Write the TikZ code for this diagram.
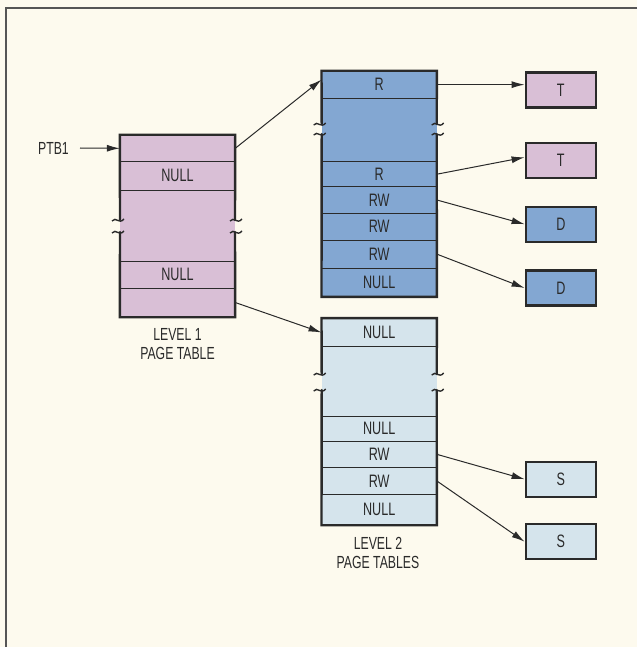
\documentclass[tikz,border=0pt]{standalone}
\usepackage{fontspec}
\setmainfont[FakeStretch=0.7]{Liberation Sans}
\usetikzlibrary{arrows.meta}
\definecolor{bgc}{HTML}{FDFAEE}
\definecolor{pinkc}{HTML}{D9BFD6}
\definecolor{bluec}{HTML}{83A7D2}
\definecolor{lightc}{HTML}{D5E4EC}
\definecolor{inkc}{HTML}{2A2A2A}
\tikzset{
  row/.style={inner sep=0pt, minimum width=115pt, text=inkc, font=\fontsize{18}{20}\selectfont},
  border/.style={draw=inkc, line width=2.4pt, line cap=round},
  sep/.style={draw=inkc, line width=1pt},
  smallbox/.style={draw=inkc, line width=2.4pt, minimum width=70pt, minimum height=35pt, inner sep=0pt, text=inkc, font=\fontsize{18}{20}\selectfont},
  conn/.style={draw=inkc, line width=1pt, -{Latex[length=13pt,width=7pt]}},
  lbl/.style={text=inkc, font=\fontsize{17.5}{19}\selectfont, align=center, inner sep=0pt},
  curlmark/.pic={\draw[draw=inkc, line width=1.4pt] (-6,1) .. controls (-2,-4) and (1,5) .. (6,-1);}
}
\begin{document}
\begin{tikzpicture}[x=1pt,y=-1pt]
\fill[bgc] (0,0) rectangle (637,647);
\useasboundingbox (0,0) rectangle (637,647);
\draw[draw=inkc!80, line width=2pt] (637,8) -- (6,8) -- (6,647);

% ---------- Level 1 page table ----------
\node[row, fill=pinkc, minimum height=26.7pt] (l1a) at (177.5,148.35) {};
\node[row, fill=pinkc, minimum height=28.3pt] (l1b) at (177.5,175.85) {NULL};
\node[row, fill=pinkc, minimum height=71pt] (l1c) at (177.5,225.5) {};
\node[row, fill=pinkc, minimum height=27pt] (l1d) at (177.5,274.5) {NULL};
\node[row, fill=pinkc, minimum height=29pt] (l1e) at (177.5,302.5) {};
\draw[sep] (l1a.south west) -- (l1a.south east);
\draw[sep] (l1b.south west) -- (l1b.south east);
\draw[sep] (l1c.south west) -- (l1c.south east);
\draw[sep] (l1d.south west) -- (l1d.south east);
\draw[border] (120,220) -- (l1a.north west) -- (l1a.north east) -- (235,220);
\draw[border] (120,232) -- (l1e.south west) -- (l1e.south east) -- (235,232);
\pic at (118,220) {curlmark};
\pic at (118,232) {curlmark};
\pic at (236,220) {curlmark};
\pic at (236,232) {curlmark};
\node[lbl] (l1lbl) at (177.5,344) {LEVEL 1\\PAGE TABLE};

\node[lbl, anchor=east] (ptb) at (69,148) {PTB1};
\draw[conn] (ptb.east) ++(11,0) coordinate (ptbs) -- (l1a.west);

% ---------- Level 2 (blue) page table ----------
\node[row, fill=bluec, minimum height=27.3pt] (b1) at (379.2,84.65) {R};
\node[row, fill=bluec, minimum height=63.4pt] (b2) at (379.2,130) {};
\node[row, fill=bluec, minimum height=25pt] (b3) at (379.2,174.2) {R};
\node[row, fill=bluec, minimum height=26.6pt] (b4) at (379.2,200) {RW};
\node[row, fill=bluec, minimum height=26.7pt] (b5) at (379.2,226.65) {RW};
\node[row, fill=bluec, minimum height=28.3pt] (b6) at (379.2,254.15) {RW};
\node[row, fill=bluec, minimum height=28.4pt] (b7) at (379.2,282.5) {NULL};
\foreach \r in {b1,b2,b3,b4,b5,b6} \draw[sep] (\r.south west) -- (\r.south east);
\draw[border] (321.7,124) -- (b1.north west) -- (b1.north east) -- (436.7,124);
\draw[border] (321.7,134) -- (b7.south west) -- (b7.south east) -- (436.7,134);
\pic at (319.7,124) {curlmark};
\pic at (319.7,134) {curlmark};
\pic at (437.7,124) {curlmark};
\pic at (437.7,134) {curlmark};

% ---------- Level 2 (light) page table ----------
\node[row, fill=lightc, minimum height=28.4pt] (c1) at (379.2,332.5) {NULL};
\node[row, fill=lightc, minimum height=69.3pt] (c2) at (379.2,381.35) {};
\node[row, fill=lightc, minimum height=25pt] (c3) at (379.2,428.5) {NULL};
\node[row, fill=lightc, minimum height=26.7pt] (c4) at (379.2,454.35) {RW};
\node[row, fill=lightc, minimum height=26.6pt] (c5) at (379.2,481) {RW};
\node[row, fill=lightc, minimum height=30.7pt] (c6) at (379.2,509.65) {NULL};
\foreach \r in {c1,c2,c3,c4,c5} \draw[sep] (\r.south west) -- (\r.south east);
\draw[border] (321.7,374) -- (c1.north west) -- (c1.north east) -- (436.7,374);
\draw[border] (321.7,390) -- (c6.south west) -- (c6.south east) -- (436.7,390);
\pic at (319.7,374) {curlmark};
\pic at (319.7,390) {curlmark};
\pic at (437.7,374) {curlmark};
\pic at (437.7,390) {curlmark};
\node[lbl] (l2lbl) at (378,553) {LEVEL 2\\PAGE TABLES};

% ---------- target pages ----------
\node[smallbox, fill=pinkc] (t1) at (560.8,90) {T};
\node[smallbox, fill=pinkc] (t2) at (560.8,160.3) {T};
\node[smallbox, fill=bluec] (d1) at (560.8,224.2) {D};
\node[smallbox, fill=bluec] (d2) at (560.8,288) {D};
\node[smallbox, fill=lightc] (s1) at (560.8,479.2) {S};
\node[smallbox, fill=lightc] (s2) at (560.8,541.7) {S};

% ---------- connectors ----------
\draw[conn] (l1a.east) -- ([yshift=5pt]b1.west);
\draw[conn] (l1e.east) -- (c1.west);
\draw[conn] (b1.east) -- (b1.east -| t1.west);
\draw[conn] (b3.east) -- ([yshift=3pt]t2.west);
\draw[conn] (b4.east) -- (d1.west);
\draw[conn] (b6.east) -- (d2.west);
\draw[conn] (c4.east) -- (s1.west);
\draw[conn] (c5.east) -- (s2.west);
\end{tikzpicture}
\end{document}
